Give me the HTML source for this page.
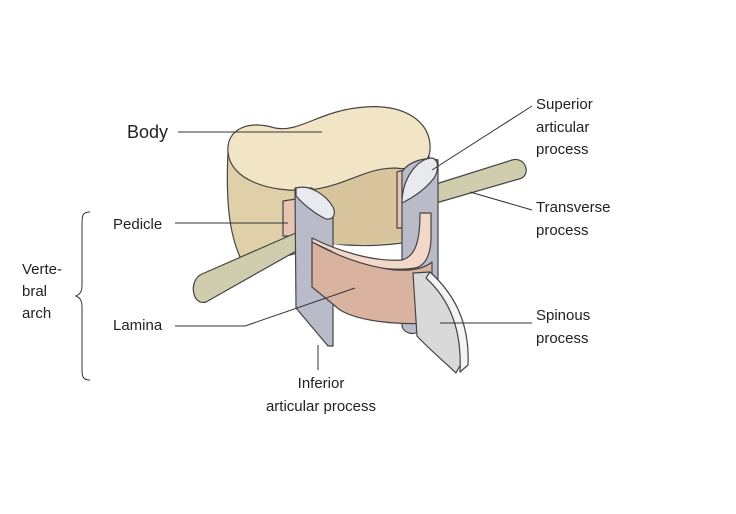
<!DOCTYPE html>
<html><head><style>
body{margin:0;background:#fff}
svg text{font-family:"Liberation Sans",sans-serif;font-size:15px;fill:#222}
</style></head><body>
<svg width="736" height="509" viewBox="0 0 736 509" xmlns="http://www.w3.org/2000/svg">
<g stroke="#444" stroke-width="1.2" stroke-linejoin="round">
<path d="M228,152 C226,195 228,230 240,257 C270,262 300,255 312,245 L330,243 C360,248 395,245 420,240 L428,230 C430,200 432,170 428,150 Z" fill="#e0d0aa"/>
<path d="M300,190 C340,185 370,170 400,168 L402,240 C380,244 350,246 320,243 Z" fill="#d8c59e" stroke="none"/>
<path d="M228,152 C226,128 250,120 275,128 C300,133 320,110 365,107 C405,104 432,122 430,150 C428,168 412,170 395,168 C365,168 345,186 310,190 C270,193 230,180 228,152 Z" fill="#f2e5c6"/>
<path d="M397,172 L404,170 L404,228 L397,228 Z" fill="#e8c4b2"/>
<path d="M436,184 L512,160 C526,156 532,176 519,179 L436,203 Z" fill="#cfcdae"/>
<path d="M283,201 L296,199 L296,236 L283,236 Z" fill="#e8c4b2"/>
<path d="M298,232 L202,274 C188,280 192,306 206,302 L298,250 Z" fill="#cfcdae"/>
<path d="M402,172 C408,162 425,156 438,160 L438,300 L420,330 C415,336 404,334 402,326 Z" fill="#b9bcc8"/>
<path d="M402,203 C402,178 418,158 432,158 C440,160 438,172 434,178 C425,190 412,198 402,203 Z" fill="#e8eaf0"/>
<path d="M295,188 L312,188 L333,208 L333,346 L328,346 L296,308 Z" fill="#b9bcc8"/>
<path d="M296,188 C310,184 326,195 333,207 C336,214 334,220 326,219 C315,214 303,204 296,196 Z" fill="#e8eaf0"/>
<path d="M312,238 C340,252 375,262 402,260 C416,256 420,240 420,213 L431,213 L431,240 C430,258 424,266 415,268 C390,272 360,266 340,256 C330,250 320,246 312,242 Z" fill="#f3d8ca"/>
<path d="M312,242 C330,252 360,266 395,270 C412,271 425,268 432,262 L432,323 C400,325 360,322 340,310 L312,287 Z" fill="#d9b3a0"/>
<path d="M413,273 L430,272 C450,295 462,320 462,362 L456,373 C440,358 425,345 417,336 Z" fill="#d9d9d9"/>
<path d="M430,272 C452,292 470,320 468,365 L460,372 C462,330 450,300 426,278 Z" fill="#f4f4f4"/>
</g>
<g stroke="#333" stroke-width="1" fill="none">
<line x1="178" y1="132" x2="322" y2="132"/>
<line x1="175" y1="223" x2="288" y2="223"/>
<polyline points="175,326 245,326 355,288"/>
<line x1="318" y1="345" x2="318" y2="370"/>
<line x1="532" y1="106" x2="432" y2="170"/>
<line x1="532" y1="210" x2="470" y2="192"/>
<line x1="440" y1="323" x2="532" y2="323"/>
<path d="M90,212 C82,212 82,216 82,225 L82,285 C82,292 80,294 76,296 C80,298 82,300 82,307 L82,370 C82,378 84,380 90,380"/>
</g>
<text x="127" y="138" style="font-size:18px">Body</text>
<text x="536" y="109">Superior</text>
<text x="536" y="132">articular</text>
<text x="536" y="154">process</text>
<text x="536" y="212">Transverse</text>
<text x="536" y="235">process</text>
<text x="536" y="320">Spinous</text>
<text x="536" y="343">process</text>
<text x="113" y="229">Pedicle</text>
<text x="113" y="330">Lamina</text>
<text x="321" y="388" text-anchor="middle">Inferior</text>
<text x="321" y="411" text-anchor="middle">articular process</text>
<text x="22" y="274">Verte-</text>
<text x="22" y="296">bral</text>
<text x="22" y="318">arch</text>
</svg>
</body></html>
